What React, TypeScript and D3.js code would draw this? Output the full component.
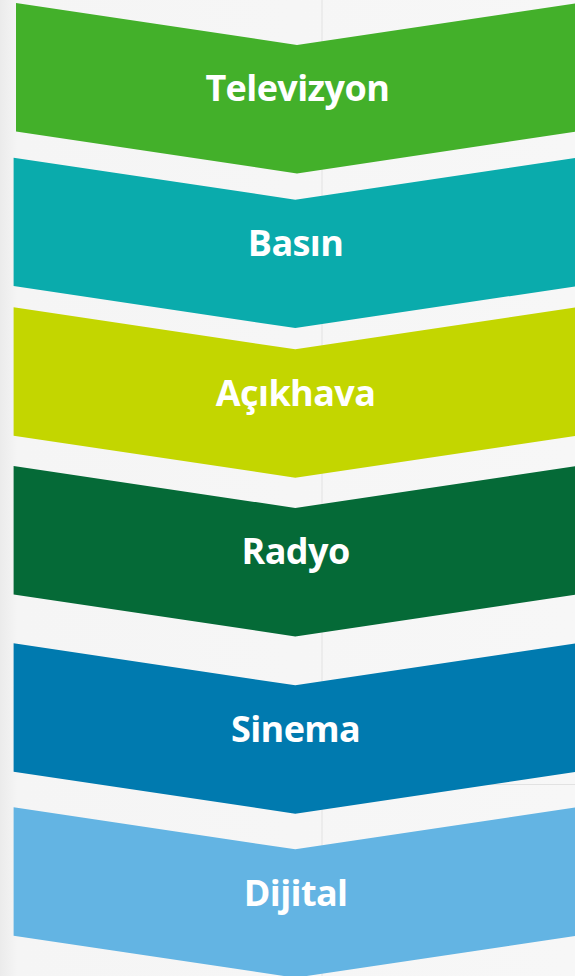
import React from "react";
import * as d3 from "d3";

// ---- data ----
const categories = ["Televizyon", "Basın", "Açıkhava", "Radyo", "Sinema", "Dijital"];
const colors = ["#43b02a", "#0aabac", "#c3d600", "#056a37", "#007aaf", "#63b4e3"];

// ---- layout (positions of each chevron) ----
const tops = [3, 157.7, 307.3, 466, 643.3, 807.3];
const lefts = [16, 13.6, 13.6, 13.6, 13.6, 13.6];
const centers = [297, 295.3, 295.3, 295.3, 295.3, 295.3];

const W = 575;
const H = 976;
const BODY = 128.4; // vertical size of straight edge
const DEPTH = 42; // depth of notch / tip

const line = d3.line<[number, number]>().x((d) => d[0]).y((d) => d[1]);

function chevronPath(top: number, left: number, cx: number) {
  const right = cx + (cx - left);
  const pts: [number, number][] = [
    [left, top],
    [cx, top + DEPTH],
    [right, top],
    [right, top + BODY],
    [cx, top + BODY + DEPTH],
    [left, top + BODY],
  ];
  return line(pts) + "Z";
}

export default function App() {
  const idx = d3.range(categories.length);
  const capH = 26.5;
  return (
    <div style={{ position: "absolute", left: 0, top: 0 }}>
      <svg width={W} height={H} style={{ display: "block" }}>
        <defs>
          <linearGradient id="bgEdge" x1="0" x2="1" y1="0" y2="0">
            <stop offset="0" stopColor="#ebebeb" />
            <stop offset="0.03" stopColor="#f5f5f5" />
            <stop offset="1" stopColor="#f7f7f7" />
          </linearGradient>
        </defs>
        <rect x={0} y={0} width={W} height={H} fill="url(#bgEdge)" />
        <line x1={322} x2={322} y1={0} y2={H} stroke="#e2e2e2" strokeWidth={1} />
        <line x1={478} x2={W} y1={784.5} y2={784.5} stroke="#e2e2e2" strokeWidth={1} />
        {idx.map((i) => (
          <g key={categories[i]}>
            <path d={chevronPath(tops[i], lefts[i], centers[i])} fill={colors[i]} />
            <text
              x={centers[i] + 0.3}
              y={tops[i] + (DEPTH + BODY) / 2 + capH / 2}
              textAnchor="middle"
              fill="#ffffff"
              fontFamily="'Open Sans', 'Noto Sans', sans-serif"
              fontWeight={700}
              fontSize={36}
              letterSpacing={-0.6}
            >
              {categories[i]}
            </text>
          </g>
        ))}
      </svg>
    </div>
  );
}
